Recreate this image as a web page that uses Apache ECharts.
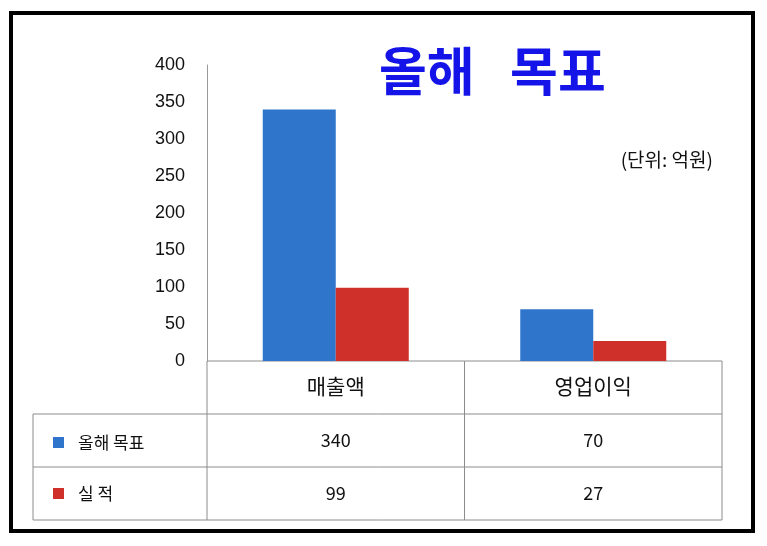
<!DOCTYPE html>
<html>
<head>
<meta charset="utf-8">
<script src="https://cdn.jsdelivr.net/npm/echarts@6/dist/echarts.min.js"></script>
<style>
html,body{margin:0;padding:0;background:#fff;}
#main{width:767px;height:546px;}
</style>
</head>
<body>
<div id="main"></div>
<script>
var categories = ['매출액', '영업이익'];
var seriesNames = ['올해 목표', '실 적'];
var targetValues = [340, 70];
var actualValues = [99, 27];
var yTicks = [0, 400, 50];

var font = '"Noto Sans CJK KR", sans-serif';
var blue = '#2E75CB', red = '#D0302A';

var myChart = echarts.init(document.getElementById('main'));
var option = {
    animation: false,
    color: [blue, red],
    title: {
        text: '올해   목표',
        left: 374,
        top: 40,
        textStyle: {fontFamily: font, fontSize: 52, fontWeight: 'bold', color: '#1414E8'}
    },
    legend: {
        orient: 'vertical',
        left: 48,
        top: 429,
        itemWidth: 11,
        itemHeight: 11,
        itemGap: 34,
        icon: 'rect',
        textStyle: {fontFamily: font, fontSize: 17, color: '#111', padding: [0, 0, 0, 9]},
        data: seriesNames
    },
    grid: {left: 207, right: 45, top: 65, bottom: 185},
    xAxis: {
        type: 'category',
        data: categories,
        axisLine: {show: false},
        axisTick: {show: false},
        axisLabel: {margin: 15, fontFamily: font, fontSize: 21, color: '#111'}
    },
    yAxis: {
        type: 'value',
        min: yTicks[0], max: yTicks[1], interval: yTicks[2],
        axisLine: {show: true, lineStyle: {color: '#999'}},
        axisTick: {show: false},
        splitLine: {show: false},
        axisLabel: {margin: 22, fontFamily: '"Liberation Sans", Arial, sans-serif', fontSize: 18, color: '#111'}
    },
    series: [
        {name: seriesNames[0], type: 'bar', data: targetValues, barWidth: 73, barGap: '0%'},
        {name: seriesNames[1], type: 'bar', data: actualValues, barWidth: 73, barGap: '0%'}
    ]
};
myChart.setOption(option);

// data table under the axis, laid out from the category axis
var x0 = 207, x2 = 722, xMid = (myChart.convertToPixel({xAxisIndex: 0}, 0) + myChart.convertToPixel({xAxisIndex: 0}, 1)) / 2;
var yTop = myChart.convertToPixel({yAxisIndex: 0}, 0);
var rowH = 53, tableLeft = 33;
var lineStyle = {stroke: '#8c8c8c', lineWidth: 1};
var g = [];
function line(a, b, c, d) { g.push({type: 'line', shape: {x1: a, y1: b, x2: c, y2: d}, style: lineStyle, silent: true}); }
line(x0, yTop, x2, yTop);
line(tableLeft, yTop + rowH, x2, yTop + rowH);
line(tableLeft, yTop + 2 * rowH, x2, yTop + 2 * rowH);
line(tableLeft, yTop + 3 * rowH, x2, yTop + 3 * rowH);
line(tableLeft, yTop + rowH, tableLeft, yTop + 3 * rowH);
line(x0, yTop, x0, yTop + 3 * rowH);
line(xMid, yTop, xMid, yTop + 3 * rowH);
line(x2, yTop, x2, yTop + 3 * rowH);
[targetValues, actualValues].forEach(function (vals, r) {
    vals.forEach(function (v, i) {
        g.push({
            type: 'text',
            x: myChart.convertToPixel({xAxisIndex: 0}, i),
            y: yTop + rowH * (r + 1.5),
            style: {text: String(v), align: 'center', verticalAlign: 'middle', font: '18px ' + font, fill: '#111'},
            silent: true
        });
    });
});
g.push({
    type: 'text', x: 713, y: 160,
    style: {text: '(단위: 억원)', align: 'right', verticalAlign: 'middle', font: '19px ' + font, fill: '#111'}
});
g.push({
    type: 'rect', shape: {x: 11, y: 13, width: 742, height: 518},
    style: {fill: 'none', stroke: '#000', lineWidth: 4}, silent: true
});
myChart.setOption({graphic: g});
</script>
</body>
</html>
